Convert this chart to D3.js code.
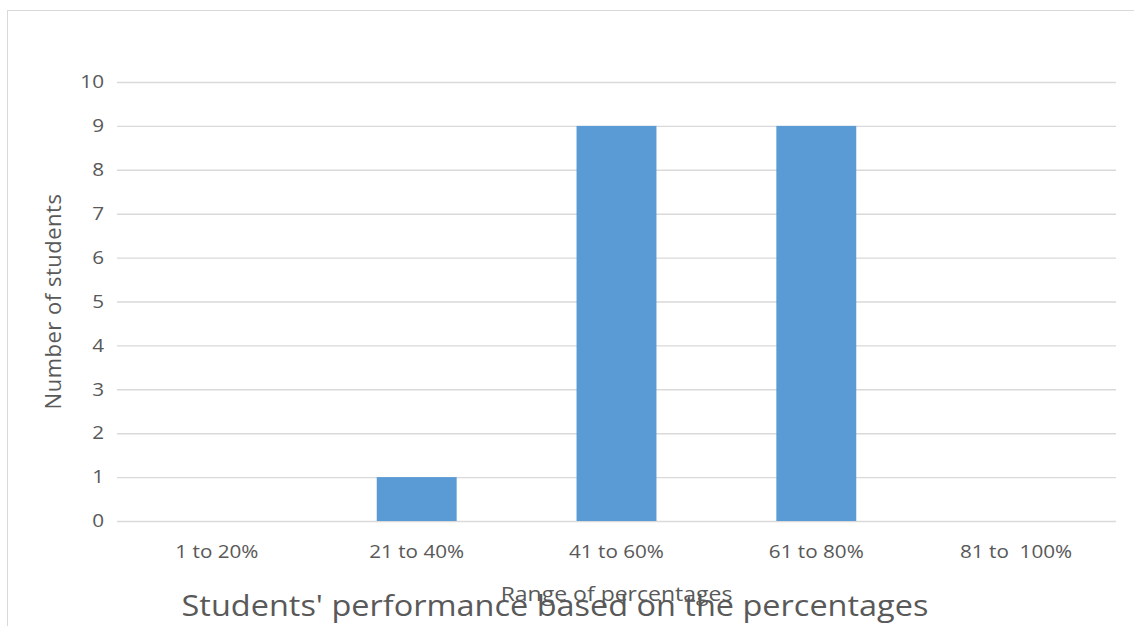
<!DOCTYPE html>
<html>
<head>
<meta charset="utf-8">
<script src="https://cdn.jsdelivr.net/npm/d3@7"></script>
<style>
  html, body { margin: 0; padding: 0; background: #fff; }
  svg { display: block; }
  text { font-family: "Open Sans", "Noto Sans", sans-serif; fill: #595959; white-space: pre; }
</style>
</head>
<body>
<svg id="chart" width="1134" height="626"></svg>
<script>
// Students per percentage band
const categories = ["1 to 20%", "21 to 40%", "41 to 60%", "61 to 80%", "81 to  100%"];
const studentCounts = [0, 1, 9, 9, 0];
const yTicks = [0, 1, 2, 3, 4, 5, 6, 7, 8, 9, 10];
const chartTitle = "Students' performance based on the percentages";
const xTitle = "Range of percentages";
const yTitle = "Number of students";

const W = 1134, H = 626;
const plot = { left: 117, right: 1116, top: 82, bottom: 521 };
const stretch = 1.15;      // horizontal widening of the label glyphs
const titleStretch = 1.12;

const svg = d3.select("#chart");

// outer chart frame (runs off the right and bottom edges)
svg.append("rect")
  .attr("x", 7.5).attr("y", 10.5)
  .attr("width", W + 20).attr("height", H + 20)
  .attr("fill", "#fff")
  .attr("stroke", "#d9d9d9").attr("stroke-width", 1);

const x = d3.scaleBand()
  .domain(categories)
  .range([plot.left, plot.right])
  .paddingInner(0.6)
  .paddingOuter(0.3);

const y = d3.scaleLinear()
  .domain([0, 10])
  .range([plot.bottom, plot.top]);

// horizontal gridlines with value labels
const yAxis = d3.axisLeft(y)
  .tickValues(yTicks)
  .tickSize(-(plot.right - plot.left))
  .tickPadding(0)
  .tickFormat(d3.format("d"));

const gy = svg.append("g")
  .attr("transform", `translate(${plot.left},0)`)
  .call(yAxis);
gy.select(".domain").remove();
gy.selectAll(".tick line").attr("stroke", "#d9d9d9").attr("stroke-width", 1.4);
gy.selectAll(".tick text")
  .attr("x", 0)
  .attr("transform", `translate(-13,0) scale(${stretch},1)`)
  .attr("fill", "#595959")
  .style("font-size", "18px")
  .style("font-family", "'Open Sans', sans-serif");

// bars
svg.append("g")
  .selectAll("rect")
  .data(categories.map((c, i) => ({ c, v: studentCounts[i] })))
  .join("rect")
  .attr("x", d => x(d.c))
  .attr("y", d => y(d.v))
  .attr("width", x.bandwidth())
  .attr("height", d => y(0) - y(d.v))
  .attr("fill", "#5b9bd5");

// category labels
const xAxis = d3.axisBottom(x).tickSize(0).tickPadding(24);
const gx = svg.append("g")
  .attr("transform", `translate(0,${plot.bottom})`)
  .call(xAxis);
gx.select(".domain").remove();
gx.selectAll(".tick text")
  .attr("transform", `scale(${stretch},1)`)
  .attr("fill", "#595959")
  .style("font-size", "18px")
  .style("font-family", "'Open Sans', sans-serif")
  .style("white-space", "pre");

// axis titles
svg.append("text")
  .attr("transform", `translate(${(plot.left + plot.right) / 2},601) scale(${stretch},1)`)
  .attr("text-anchor", "middle")
  .style("font-size", "20px")
  .text(xTitle);

svg.append("text")
  .attr("transform", `translate(61,${(plot.top + plot.bottom) / 2}) rotate(-90)`)
  .attr("text-anchor", "middle")
  .style("font-size", "22px")
  .style("letter-spacing", "0.5px")
  .text(yTitle);

// chart title
svg.append("text")
  .attr("transform", `translate(555,616) scale(${titleStretch},1)`)
  .attr("text-anchor", "middle")
  .style("font-size", "29px")
  .text(chartTitle);
</script>
</body>
</html>
